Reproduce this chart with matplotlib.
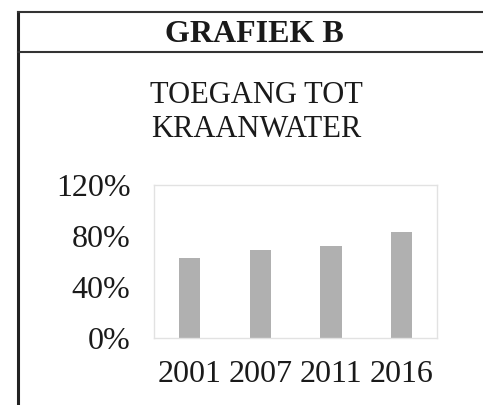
import matplotlib
matplotlib.use('Agg')
import matplotlib.pyplot as plt
from matplotlib.lines import Line2D

# gegevens
jaren = ['2001', '2007', '2011', '2016']
toegang = [63, 69, 72, 83]  # procent
yticks = [0, 40, 80, 120]

plt.rcParams['font.family'] = ['Liberation Serif', 'DejaVu Serif']

fig = plt.figure(figsize=(4.83, 4.05), dpi=100)

# kader
fig.add_artist(Line2D([0.037, 0.037], [0.0, 0.970], color='#222222', lw=2.2))
fig.add_artist(Line2D([0.037, 1.0], [0.970, 0.970], color='#333333', lw=1.5))
fig.add_artist(Line2D([0.037, 1.0], [0.872, 0.872], color='#333333', lw=1.5))

fig.text(0.526, 0.914, 'GRAFIEK B', ha='center', va='center',
         fontsize=23, fontweight='bold', color='#1a1a1a')
fig.text(0.53, 0.722, 'TOEGANG TOT\nKRAANWATER', ha='center', va='center',
         fontsize=22, linespacing=1.2, color='#1a1a1a')

ax = fig.add_axes([0.319, 0.165, 0.586, 0.378])
x = range(len(jaren))
ax.bar(x, toegang, width=0.3, color='#b0b0b0')
ax.set_xlim(-0.5, 3.5)
ax.set_ylim(0, 120)
ax.set_xticks(list(x))
ax.set_xticklabels(jaren)
ax.set_yticks(yticks)
ax.set_yticklabels([f'{v}%' for v in yticks])
ax.tick_params(axis='both', length=0, labelsize=23, colors='#1a1a1a')
ax.tick_params(axis='y', pad=17)
ax.tick_params(axis='x', pad=16)
for s in ax.spines.values():
    s.set_color('#e2e2e2')
    s.set_linewidth(1.0)

fig.savefig('out.png', dpi=100)
